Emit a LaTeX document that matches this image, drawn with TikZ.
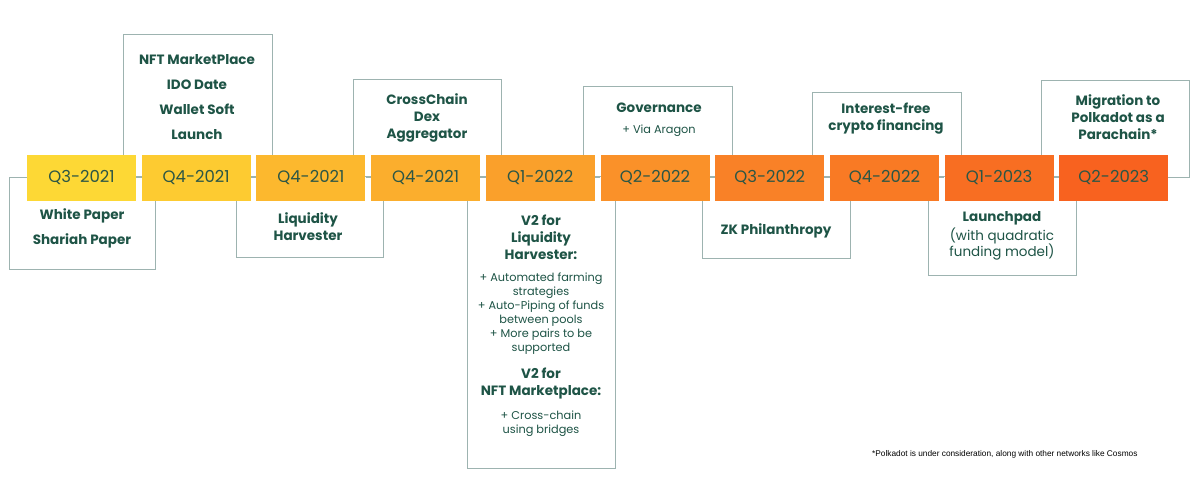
\documentclass[tikz,border=0pt]{standalone}
\usepackage{fontspec}
\setmainfont{Poppins}
\newfontfamily\footfont{Liberation Sans}
\definecolor{c1}{HTML}{FDD835}
\definecolor{c2}{HTML}{FDCB31}
\definecolor{c3}{HTML}{FCB82E}
\definecolor{c4}{HTML}{FBAE2D}
\definecolor{c5}{HTML}{FAA02B}
\definecolor{c6}{HTML}{FA9129}
\definecolor{c7}{HTML}{F98127}
\definecolor{c8}{HTML}{F97A24}
\definecolor{c9}{HTML}{F86E22}
\definecolor{c10}{HTML}{F8621F}
\definecolor{txt}{HTML}{1E5446}
\definecolor{qtxt}{HTML}{2C5645}
\definecolor{frm}{HTML}{9DB3B0}
\begin{document}
\begin{tikzpicture}[x=1pt,y=-1pt,
  qbox/.style={fill=#1, minimum width=109pt, minimum height=46pt, inner sep=0pt,
    font=\fontsize{16.5}{20}\selectfont, text=qtxt},
  frame/.style={draw=frm, line width=1pt},
  link/.style={draw=frm, line width=1pt},
  lbl/.style={text=txt, align=center, inner sep=0pt},
  big/.style={font=\bfseries\fontsize{13.5}{25}\selectfont},
  mid/.style={font=\bfseries\fontsize{13.5}{17}\selectfont},
  reg/.style={font=\fontsize{13.5}{16.5}\selectfont},
  small/.style={font=\fontsize{11.3}{14}\selectfont}
]
\useasboundingbox[fill=white] (0,0) rectangle (1200,484);
% frames
\draw[frame] (9,178) rectangle (155,269);
\draw[frame] (123,35) rectangle (272,177);
\draw[frame] (236,177) rectangle (383,257);
\draw[frame] (353,80) rectangle (501,177);
\draw[frame] (467,177) rectangle (615,468);
\draw[frame] (583,87) rectangle (732,177);
\draw[frame] (702,177) rectangle (850,258);
\draw[frame] (812,93) rectangle (961,177);
\draw[frame] (928,177) rectangle (1076,275);
\draw[frame] (1041,81) rectangle (1189,178);
% quarter boxes
\node[qbox=c1]  (q1)  at (81.5,178)   {Q3-2021};
\node[qbox=c2]  (q2)  at (196.2,178)  {Q4-2021};
\node[qbox=c3]  (q3)  at (310.9,178)  {Q4-2021};
\node[qbox=c4]  (q4)  at (425.6,178)  {Q4-2021};
\node[qbox=c5]  (q5)  at (540.3,178)  {Q1-2022};
\node[qbox=c6]  (q6)  at (655,178)    {Q2-2022};
\node[qbox=c7]  (q7)  at (769.7,178)  {Q3-2022};
\node[qbox=c8]  (q8)  at (884.4,178)  {Q4-2022};
\node[qbox=c9]  (q9)  at (999.1,178)  {Q1-2023};
\node[qbox=c10] (q10) at (1113.8,178) {Q2-2023};
\foreach \a/\b in {q1/q2,q2/q3,q3/q4,q4/q5,q5/q6,q6/q7,q7/q8,q8/q9,q9/q10}
  \draw[link] (\a.east) -- (\b.west);
% texts
\node[lbl,big] (t1) at (82,228) {White Paper\\Shariah Paper};
\node[lbl,big] (t2) at (197,97) {NFT MarketPlace\\IDO Date\\Wallet Soft\\Launch};
\node[lbl,mid] (t3) at (308,227) {Liquidity\\Harvester};
\node[lbl,mid] (t4) at (427,118) {CrossChain\\Dex\\Aggregator};
\node[lbl,mid] (t5a) at (541,237) {V2 for\\Liquidity\\Harvester:};
\node[lbl,small] (t5b) at (541,314) {+ Automated farming\\strategies\\+ Auto-Piping of funds\\between pools\\+ More pairs to be\\supported};
\node[lbl,mid] (t5c) at (541,384) {V2 for\\NFT Marketplace:};
\node[lbl,small] (t5d) at (541,423.5) {+ Cross-chain\\using bridges};
\node[lbl,mid] (t6a) at (659,108) {Governance};
\node[lbl,small] (t6b) at (659,131) {+ Via Aragon};
\node[lbl,mid] (t7) at (776,231) {ZK Philanthropy};
\node[lbl,mid] (t8) at (886,119) {Interest-free\\crypto financing};
\node[lbl,mid] (t9a) at (1002,218) {Launchpad};
\node[lbl,reg] (t9b) at (1002,244) {(with quadratic\\funding model)};
\node[lbl,mid] (t10) at (1118,117) {Migration to\\Polkadot as a\\Parachain*};
\node[anchor=west, inner sep=0pt, font=\footfont\fontsize{8.3}{10}\selectfont] (fn) at (872,454)
  {*Polkadot is under consideration, along with other networks like Cosmos};
\end{tikzpicture}
\end{document}
